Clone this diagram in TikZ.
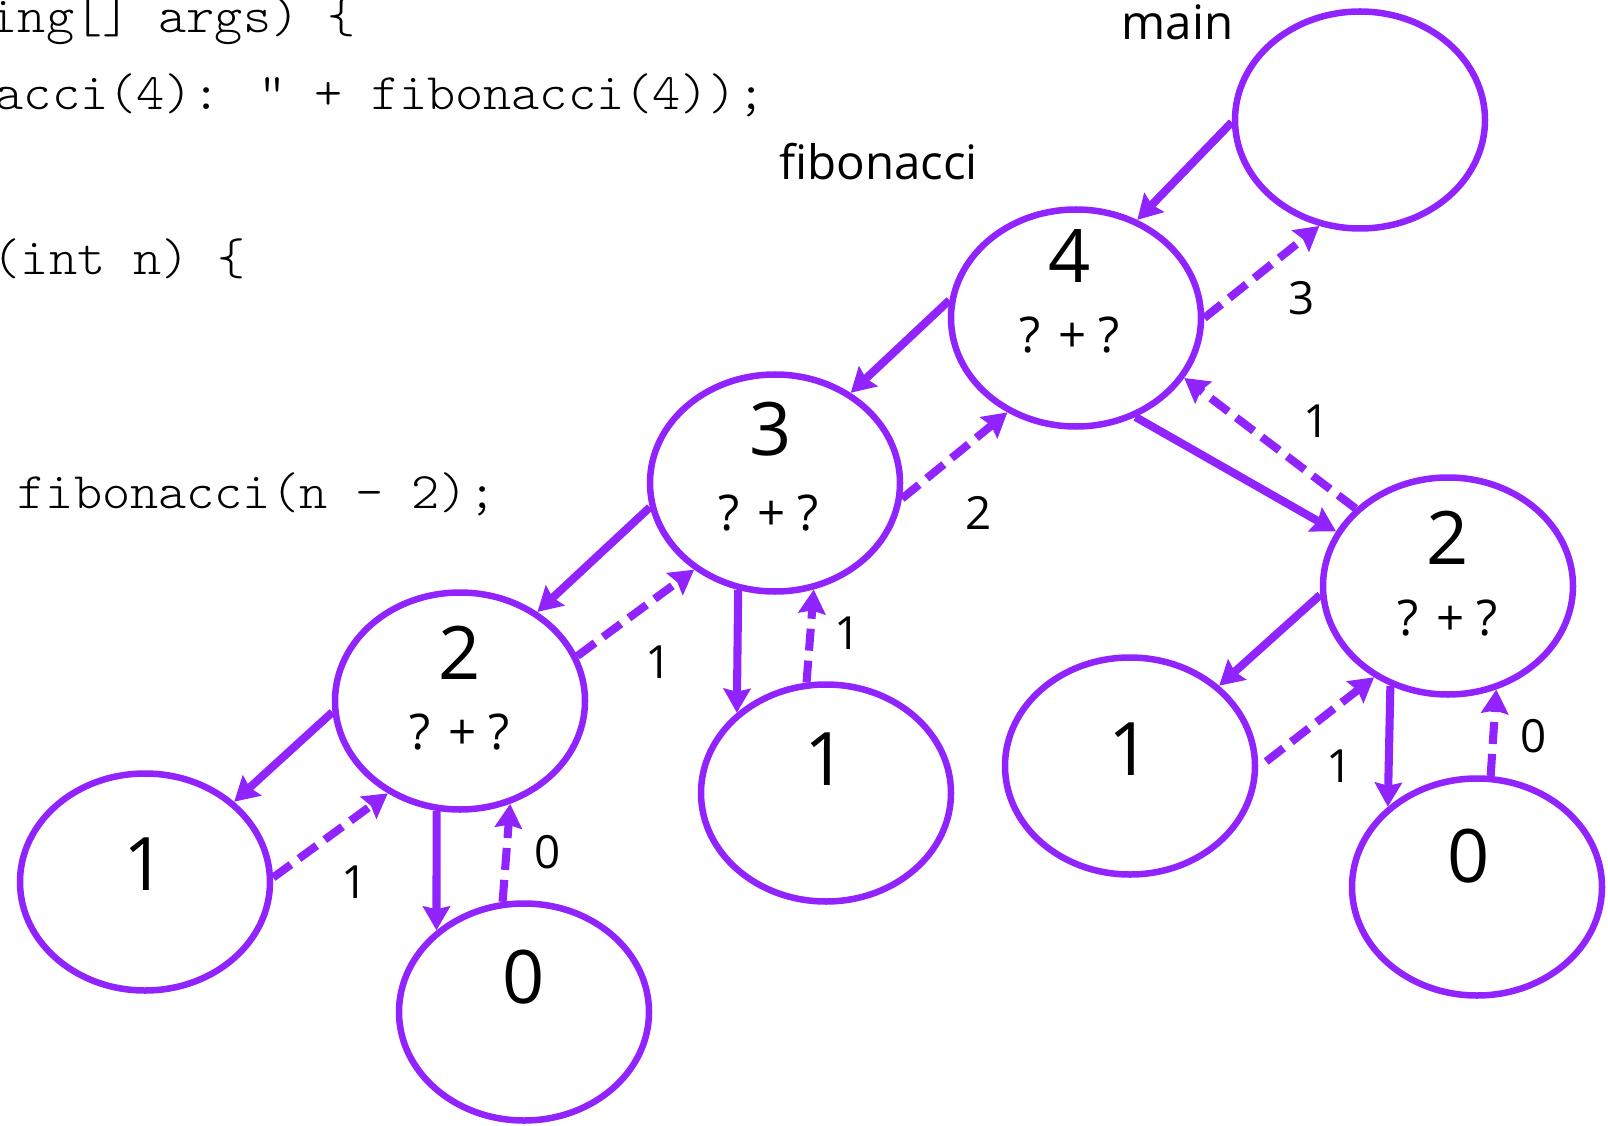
\documentclass[tikz,border=0pt]{standalone}
\usepackage{fontspec}
\setmainfont{Open Sans}
\newfontfamily\codefont[FakeStretch=1.045]{lmmonolt10-regular.otf}
\usetikzlibrary{positioning,arrows.meta,shapes.geometric}
\definecolor{callpurple}{RGB}{145,35,255}

\begin{document}
\begin{tikzpicture}[
callbox/.style={
    ellipse,
    draw=callpurple,
    line width=1.85pt,
    minimum width=2.5cm,
    minimum height=2.17cm,
    inner sep=0pt
},
num/.style={font=\fontsize{21}{25}\selectfont, inner sep=0pt},
sum/.style={font=\fontsize{14}{17}\selectfont, inner sep=0pt},
val/.style={font=\fontsize{13}{16}\selectfont, inner sep=0pt},
head/.style={font=\fontsize{13.5}{16}\selectfont, inner sep=0pt},
src/.style={font=\codefont\fontsize{14.6}{17}\selectfont, anchor=base west, inner sep=0pt},
call/.style={-{Stealth[length=0.24cm,width=0.27cm,inset=0.03cm]}, draw=callpurple, line width=2.3pt},
ret/.style={call, dash pattern=on 0.22cm off 0.1cm}
]

\useasboundingbox (0,0) rectangle (16.08,11.25);
\clip (0,0) rectangle (16.08,11.25);

% source listing behind the frames
\node (srcA) [src] at (-0.11,10.92) {ing[] args) \{};
\node (srcB) [src] at (-0.05,10.15) {acci(4): " + fibonacci(4));};
\node (srcC) [src] at (-0.08,8.50) {(int n) \{};
\node (srcD) [src] at (0.17,6.17) {fibonacci(n - 2);};

% stack frames
\node (mainbox) [callbox] at (13.60,10.05) {};
\node (fibfour) [callbox] at (10.76,8.07) {};
\node (fibthree) [callbox] at (7.75,6.42) {};
\node (fibtwoL) [callbox] at (4.60,4.24) {};
\node (fibtwoR) [callbox] at (14.48,5.39) {};
\node (oneL) [callbox] at (1.45,2.43) {};
\node (zeroL) [callbox] at (5.24,1.13) {};
\node (oneM) [callbox] at (8.26,3.32) {};
\node (oneR) [callbox] at (11.30,3.59) {};
\node (zeroR) [callbox] at (14.77,2.38) {};

\node (mainlbl) [head] at (11.775,11.03) {main};
\node (fiblbl) [head] at (8.785,9.63) {fibonacci};

% argument and pending sum in each frame
\node (fourn) [num] at ([shift={(-0.06,0.62)}]fibfour.center) {4};
\node (fours) [sum] at ([shift={(-0.06,-0.17)}]fibfour.center) {? + ?};
\node (threen) [num] at ([shift={(-0.04,0.54)}]fibthree.center) {3};
\node (threes) [sum] at ([shift={(-0.06,-0.30)}]fibthree.center) {? + ?};
\node (twoLn) [num] at ([shift={(0,0.48)}]fibtwoL.center) {2};
\node (twoLs) [sum] at ([shift={(0,-0.31)}]fibtwoL.center) {? + ?};
\node (twoRn) [num] at ([shift={(0,0.48)}]fibtwoR.center) {2};
\node (twoRs) [sum] at ([shift={(0,-0.32)}]fibtwoR.center) {? + ?};
\node (oneLn) [num] at ([yshift=0.18cm]oneL.center) {1};
\node (zeroLn) [num] at ([yshift=0.35cm]zeroL.center) {0};
\node (oneMn) [num] at ([yshift=0.34cm]oneM.center) {1};
\node (oneRn) [num] at ([yshift=0.17cm]oneR.center) {1};
\node (zeroRn) [num] at ([shift={(-0.08,0.31)}]zeroR.center) {0};

% returned values
\node (rthree) [val] at (13.02,8.27) {3};
\node (rfourone) [val] at (13.17,7.04) {1};
\node (rtwo) [val] at (9.79,6.12) {2};
\node (rthreeone) [val] at (6.59,4.63) {1};
\node (rmidone) [val] at (8.48,4.92) {1};
\node (rleftone) [val] at (3.55,2.43) {1};
\node (rleftzero) [val] at (5.48,2.73) {0};
\node (rrightone) [val] at (13.40,3.59) {1};
\node (rrightzero) [val] at (15.34,3.89) {0};

% calls
\draw[call] (mainbox.181) -- (fibfour.58);
\draw[call] (fibfour.172) -- (fibthree.50);
\draw[call] (fibfour.301) -- (fibtwoR.154);
\draw[call] (fibthree.191) -- (fibtwoL.49);
\draw[call] (fibthree.251) -- (oneM.138);
\draw[call] (fibtwoL.185) -- (oneL.42);
\draw[call] (fibtwoL.258) -- (zeroL.137);
\draw[call] (fibtwoR.184) -- (oneR.42);
\draw[call] (fibtwoR.240) -- (zeroR.138);

% returns
\draw[ret] (fibfour.0) -- (mainbox.249);
\draw[ret] (fibthree.353) -- (fibfour.234);
\draw[ret] (fibtwoR.140) -- (fibfour.331);
\draw[ret] (fibtwoL.21) -- (fibthree.227);
\draw[ret] (oneM.100) -- (fibthree.290);
\draw[ret] (oneL.2) -- (fibtwoL.232);
\draw[ret] (zeroL.101) -- (fibtwoL.296);
\draw[ret] ([xshift=0.08cm]oneR.2) -- (fibtwoR.231);
\draw[ret] (zeroR.83) -- (fibtwoR.295);

\end{tikzpicture}
\end{document}
